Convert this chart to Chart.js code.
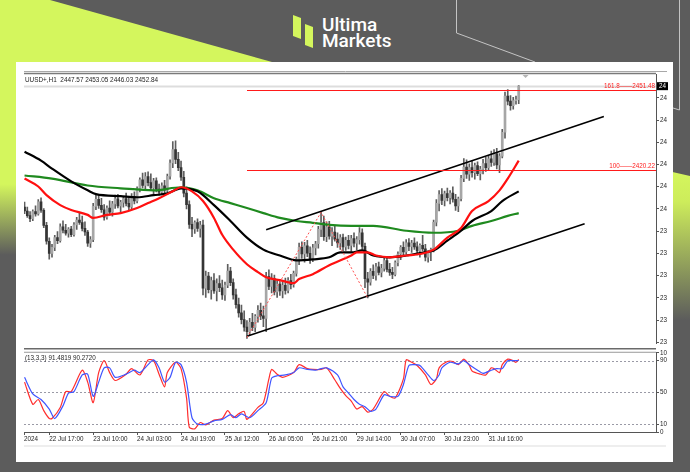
<!DOCTYPE html>
<html>
<head>
<meta charset="utf-8">
<title>UUSD+ H1</title>
<script src="https://cdn.jsdelivr.net/npm/chart.js@4.4.1/dist/chart.umd.min.js"></script>
<style>
  html, body { margin: 0; padding: 0; }
  body { width: 690px; height: 472px; position: relative; overflow: hidden; background: #5c5c5c; }
  #bg { position: absolute; left: 0; top: 0; }
  #panel { position: absolute; left: 16px; top: 62px; width: 657px; height: 400px; background: #fff; }
  #priceChart { position: absolute; left: 24px; top: 62px; }
  #stochChart { position: absolute; left: 24px; top: 348px; }
</style>
</head>
<body>
<svg id="bg" width="690" height="472" xmlns="http://www.w3.org/2000/svg">
  <defs>
    <linearGradient id="limeLeft" x1="0" y1="0" x2="0" y2="472" gradientUnits="userSpaceOnUse">
      <stop offset="0" stop-color="#d4f65d"/>
      <stop offset="0.39" stop-color="#d4f65d"/>
      <stop offset="0.54" stop-color="#5c5c5c"/>
    </linearGradient>
    <linearGradient id="limeRight" x1="0" y1="172" x2="0" y2="320" gradientUnits="userSpaceOnUse">
      <stop offset="0" stop-color="#d4f65d"/>
      <stop offset="0.2" stop-color="#cdec5b"/>
      <stop offset="1" stop-color="#5c5c5c"/>
    </linearGradient>
  </defs>
  <polygon points="0,0 50,0 290,67 290,472 0,472" fill="url(#limeLeft)"/>
  <polygon points="655,168 690,176 690,472 655,472" fill="url(#limeRight)"/>
  <polyline points="456.5,0 456.5,33 535,62" stroke="#c4c4c4" stroke-width="1" fill="none"/>
  <polyline points="679.5,0 679.5,110 673,108" stroke="#c4c4c4" stroke-width="1" fill="none"/>
  <polygon points="293,15 301,18 301,39 293,36" fill="#d4f65d"/>
  <polygon points="305,24 313,27 313,48 305,45" fill="#d4f65d"/>
  <text x="322" y="30.5" font-family="Roboto, 'Liberation Sans', sans-serif" font-size="19" font-weight="500" fill="#ffffff">Ultima</text>
  <text x="322" y="47" font-family="Roboto, 'Liberation Sans', sans-serif" font-size="19" font-weight="500" fill="#ffffff">Markets</text>
</svg>
<div id="panel"></div>
<canvas id="priceChart" width="650" height="286"></canvas>
<canvas id="stochChart" width="650" height="100"></canvas>
<script>
// H1 candles, 22 Jul 08:00 .. 1 Aug 2024
const opens = [
  2405.5, 2404.0, 2402.2, 2401.0, 2403.8, 2402.9, 2407.6, 2404.3, 2398.4, 2392.2,
  2387.4, 2389.8, 2393.6, 2392.4, 2397.8, 2396.5, 2395.3, 2396.9, 2394.8, 2398.6,
  2400.5, 2399.5, 2397.2, 2395.8, 2391.4, 2392.8, 2405.8, 2408.6, 2406.2, 2404.5,
  2401.6, 2405.2, 2403.6, 2406.8, 2408.8, 2406.0, 2407.4, 2408.9, 2407.0, 2405.6,
  2409.8, 2408.0, 2412.8, 2416.2, 2414.0, 2417.5, 2415.1, 2413.0, 2415.8, 2412.6,
  2411.4, 2413.9, 2412.2, 2417.6, 2422.8, 2428.0, 2424.2, 2421.0, 2417.2, 2411.0,
  2406.5, 2398.8, 2397.0, 2399.5, 2397.2, 2398.5, 2373.8, 2378.6, 2373.2, 2376.8,
  2372.8, 2375.6, 2374.0, 2371.2, 2375.0, 2380.5, 2376.0, 2371.2, 2367.4, 2364.2,
  2361.5, 2358.6, 2356.8, 2360.5, 2358.5, 2362.8, 2365.2, 2363.0, 2362.0, 2378.4,
  2374.5, 2377.6, 2372.4, 2375.4, 2372.8, 2374.9, 2373.0, 2376.8, 2375.2, 2379.6,
  2385.2, 2389.8, 2387.2, 2390.4, 2387.5, 2385.0, 2389.6, 2391.2, 2396.8, 2399.5,
  2394.0, 2397.8, 2394.2, 2395.8, 2393.0, 2391.5, 2393.6, 2390.0, 2392.5, 2390.6,
  2393.2, 2391.4, 2392.8, 2395.5, 2390.2, 2377.5, 2376.2, 2380.4, 2378.8, 2382.2,
  2380.0, 2381.6, 2384.6, 2381.2, 2380.0, 2379.2, 2383.8, 2387.2, 2389.8, 2388.0,
  2391.6, 2390.2, 2391.5, 2390.0, 2388.4, 2390.6, 2389.2, 2386.0, 2387.8, 2388.9,
  2399.6, 2407.0, 2410.4, 2408.2, 2410.8, 2409.2, 2411.0, 2408.6, 2406.0, 2408.8,
  2416.8, 2421.2, 2418.4, 2421.0, 2419.0, 2421.8, 2418.6, 2420.4, 2422.6, 2421.0,
  2424.4, 2423.0, 2426.4, 2422.0, 2425.5, 2434.8, 2449.0, 2447.0, 2445.2, 2447.2,
  2447.57
];
const highs = [
  2407.5, 2405.5, 2403.8, 2404.5, 2406.0, 2408.5, 2409.2, 2405.0, 2399.6, 2393.5,
  2391.0, 2394.5, 2396.0, 2399.0, 2400.2, 2398.8, 2397.5, 2398.0, 2399.5, 2401.5,
  2403.4, 2402.0, 2399.8, 2396.5, 2394.0, 2407.0, 2410.5, 2410.0, 2409.0, 2406.5,
  2406.0, 2408.0, 2407.8, 2410.2, 2410.5, 2408.2, 2409.8, 2411.0, 2409.2, 2410.8,
  2411.5, 2413.5, 2417.0, 2418.8, 2419.0, 2419.3, 2418.6, 2416.8, 2417.0, 2414.5,
  2415.0, 2416.0, 2418.5, 2424.0, 2431.2, 2431.5, 2427.0, 2423.5, 2419.5, 2413.5,
  2408.0, 2401.5, 2400.2, 2401.0, 2400.0, 2400.5, 2380.5, 2380.0, 2378.2, 2379.5,
  2377.5, 2378.8, 2377.0, 2376.2, 2383.2, 2382.0, 2377.5, 2373.5, 2370.0, 2367.2,
  2365.0, 2361.2, 2362.0, 2364.0, 2363.5, 2367.0, 2368.0, 2366.8, 2380.0, 2381.0,
  2379.5, 2379.0, 2376.8, 2377.2, 2376.5, 2377.8, 2378.0, 2379.2, 2380.5, 2386.0,
  2391.5, 2392.0, 2391.8, 2392.5, 2390.0, 2391.0, 2392.2, 2398.0, 2403.5, 2402.0,
  2399.8, 2400.0, 2397.5, 2398.0, 2395.5, 2394.8, 2395.0, 2393.8, 2394.5, 2394.5,
  2395.5, 2394.0, 2397.5, 2397.0, 2391.5, 2380.0, 2381.5, 2383.0, 2383.5, 2384.0,
  2383.2, 2385.8, 2386.0, 2383.5, 2382.0, 2384.5, 2388.0, 2390.5, 2392.0, 2392.8,
  2393.2, 2392.5, 2393.5, 2392.0, 2391.2, 2394.5, 2391.0, 2388.5, 2389.5, 2400.5,
  2408.5, 2412.0, 2412.8, 2411.8, 2413.0, 2412.0, 2413.5, 2410.5, 2409.5, 2418.0,
  2424.5, 2424.0, 2422.5, 2423.5, 2422.8, 2423.2, 2421.5, 2424.2, 2425.0, 2425.8,
  2427.5, 2428.0, 2428.5, 2426.5, 2436.0, 2450.5, 2451.5, 2449.2, 2448.5, 2449.0,
  2453.05
];
const lows = [
  2403.0, 2401.5, 2399.8, 2400.2, 2402.0, 2402.4, 2403.5, 2397.5, 2391.0, 2385.2,
  2386.0, 2388.5, 2391.2, 2391.8, 2395.4, 2394.6, 2393.8, 2394.0, 2394.2, 2396.8,
  2398.8, 2396.2, 2394.5, 2390.2, 2389.8, 2392.0, 2404.5, 2405.0, 2403.5, 2400.4,
  2400.8, 2402.4, 2402.0, 2405.0, 2405.2, 2403.6, 2405.5, 2406.0, 2404.5, 2404.8,
  2406.8, 2407.2, 2411.5, 2413.0, 2412.4, 2413.8, 2412.0, 2410.8, 2411.5, 2410.2,
  2410.5, 2411.0, 2411.6, 2416.5, 2421.0, 2422.5, 2419.8, 2416.0, 2409.5, 2404.8,
  2397.2, 2394.0, 2395.2, 2396.0, 2393.8, 2371.2, 2370.2, 2372.0, 2369.5, 2371.8,
  2368.8, 2372.5, 2369.4, 2369.0, 2374.0, 2374.8, 2369.5, 2366.0, 2362.5, 2359.8,
  2357.0, 2354.2, 2355.5, 2357.2, 2356.8, 2360.5, 2361.5, 2358.8, 2356.8, 2373.2,
  2372.0, 2371.2, 2370.2, 2371.0, 2370.0, 2371.5, 2372.0, 2373.5, 2374.2, 2378.5,
  2383.0, 2385.5, 2384.0, 2386.2, 2383.5, 2384.2, 2386.8, 2389.5, 2394.0, 2392.5,
  2392.0, 2393.0, 2390.5, 2392.2, 2389.8, 2389.0, 2388.5, 2388.6, 2389.2, 2388.2,
  2390.0, 2388.8, 2391.0, 2389.0, 2374.0, 2370.0, 2375.0, 2377.5, 2377.0, 2379.0,
  2378.2, 2380.5, 2380.2, 2378.8, 2377.5, 2378.6, 2382.5, 2385.0, 2386.5, 2387.2,
  2388.5, 2387.8, 2389.0, 2386.8, 2386.0, 2388.5, 2384.5, 2384.0, 2384.6, 2388.0,
  2398.2, 2404.0, 2406.5, 2406.0, 2408.0, 2406.8, 2407.5, 2404.2, 2403.8, 2408.0,
  2415.5, 2416.8, 2416.0, 2417.2, 2416.5, 2417.8, 2416.2, 2418.5, 2419.5, 2419.8,
  2421.5, 2421.8, 2420.5, 2419.0, 2424.8, 2432.5, 2445.5, 2443.5, 2443.8, 2445.8,
  2446.03
];
const closes = [
  2404.0, 2402.2, 2401.0, 2403.8, 2402.9, 2407.6, 2404.3, 2398.4, 2392.2, 2387.4,
  2389.8, 2393.6, 2392.4, 2397.8, 2396.5, 2395.3, 2396.9, 2394.8, 2398.6, 2400.5,
  2399.5, 2397.2, 2395.8, 2391.4, 2392.8, 2405.8, 2408.6, 2406.2, 2404.5, 2401.6,
  2405.2, 2403.6, 2406.8, 2408.8, 2406.0, 2407.4, 2408.9, 2407.0, 2405.6, 2409.8,
  2408.0, 2412.8, 2416.2, 2414.0, 2417.5, 2415.1, 2413.0, 2415.8, 2412.6, 2411.4,
  2413.9, 2412.2, 2417.6, 2422.8, 2428.0, 2424.2, 2421.0, 2417.2, 2411.0, 2406.5,
  2398.8, 2397.0, 2399.5, 2397.2, 2398.5, 2373.8, 2378.6, 2373.2, 2376.8, 2372.8,
  2375.6, 2374.0, 2371.2, 2375.0, 2380.5, 2376.0, 2371.2, 2367.4, 2364.2, 2361.5,
  2358.6, 2356.8, 2360.5, 2358.5, 2362.8, 2365.2, 2363.0, 2362.0, 2378.4, 2374.5,
  2377.6, 2372.4, 2375.4, 2372.8, 2374.9, 2373.0, 2376.8, 2375.2, 2379.6, 2385.2,
  2389.8, 2387.2, 2390.4, 2387.5, 2385.0, 2389.6, 2391.2, 2396.8, 2399.5, 2394.0,
  2397.8, 2394.2, 2395.8, 2393.0, 2391.5, 2393.6, 2390.0, 2392.5, 2390.6, 2393.2,
  2391.4, 2392.8, 2395.5, 2390.2, 2377.5, 2376.2, 2380.4, 2378.8, 2382.2, 2380.0,
  2381.6, 2384.6, 2381.2, 2380.0, 2379.2, 2383.8, 2387.2, 2389.8, 2388.0, 2391.6,
  2390.2, 2391.5, 2390.0, 2388.4, 2390.6, 2389.2, 2386.0, 2387.8, 2388.9, 2399.6,
  2407.0, 2410.4, 2408.2, 2410.8, 2409.2, 2411.0, 2408.6, 2406.0, 2408.8, 2416.8,
  2421.2, 2418.4, 2421.0, 2419.0, 2421.8, 2418.6, 2420.4, 2422.6, 2421.0, 2424.4,
  2423.0, 2426.4, 2422.0, 2425.5, 2434.8, 2449.0, 2447.0, 2445.2, 2447.2, 2447.57,
  2452.84
];

// moving averages, [bar, price]
const maRed = [[0,2416.7],[5,2413.6],[8,2410.2],[13,2406.3],[17,2404.4],[23,2402.5],[25,2401.3],
  [30,2402.5],[35,2403.2],[41,2405.2],[45,2407.1],[49,2409.0],[54,2411.7],[57,2413.3],[61,2411.7],
  [65,2407.9],[69,2401.3],[72,2394.7],[76,2388.9],[81,2383.2],[85,2380.1],[88,2378.1],[93,2377.0],
  [98,2375.8],[100,2377.4],[105,2379.3],[111,2382.8],[119,2386.6],[121,2387.8],[125,2387.8],
  [128,2386.6],[133,2385.9],[139,2386.6],[145,2387.4],[149,2388.9],[154,2393.6],[159,2397.4],
  [163,2404.0],[169,2407.9],[173,2412.1],[176,2416.7],[180,2423.7]];
const maBlack = [[0,2427.2],[6,2423.7],[10,2420.6],[17,2415.6],[23,2412.1],[26,2410.6],[35,2409.8],
  [41,2409.4],[47,2410.2],[52,2410.9],[57,2412.9],[63,2411.7],[69,2406.3],[75,2400.1],[81,2393.6],
  [87,2388.9],[93,2386.6],[99,2384.7],[105,2385.1],[111,2385.9],[115,2387.8],[119,2387.8],
  [123,2388.6],[127,2386.6],[133,2385.9],[139,2386.6],[145,2387.8],[149,2388.6],[154,2392.4],
  [159,2396.3],[163,2400.1],[170,2404.0],[174,2407.9],[180,2411.7]];
const maGreen = [[0,2417.9],[10,2416.7],[23,2414.0],[35,2412.9],[47,2412.1],[57,2413.3],[63,2412.1],
  [69,2409.0],[75,2407.1],[81,2405.2],[87,2403.2],[93,2401.3],[99,2400.1],[105,2399.4],[111,2398.6],
  [119,2398.2],[127,2398.2],[139,2396.3],[149,2395.5],[158,2396.3],[163,2398.2],[170,2400.1],
  [176,2402.1],[180,2403.2]];

// drawn objects
const channelLow = [[81,2355.0],[204,2399.0]];
const channelHigh = [[88,2396.7],[211,2441.0]];
const fibPath = [[81,2354.5],[108,2403.5],[125,2370.0]];
const fibStart = 81;
const fibLevels = [2420.22, 2451.48];
const fibLabels = ['100\u2014\u20142420.22', '161.8\u2014\u20142451.48'];

// stochastic (13,3,3), [bar, value]
const stochMain = [[0,63],[3,35],[5,41],[7,27],[9,17],[10,17],[13,31],[15,51],[17,51],[21,78],[23,63],
  [25,37],[27,75],[29,90],[31,75],[33,65],[37,73],[39,80],[42,72],[45,91],[47,90],[49,73],[51,57],
  [52,75],[55,88],[57,80],[59,43],[60,6],[62,4],[64,12],[66,9],[69,15],[72,17],[74,27],[76,18],
  [78,23],[80,26],[81,16],[85,31],[87,37],[89,67],[90,79],[92,73],[94,69],[98,75],[100,85],[103,80],
  [105,79],[108,79],[110,81],[113,66],[115,55],[117,46],[119,39],[121,29],[123,32],[125,25],[127,29],
  [131,51],[133,45],[135,43],[138,67],[139,91],[141,88],[143,84],[146,72],[148,60],[150,67],[151,81],
  [154,89],[156,89],[158,85],[160,92],[162,84],[163,77],[166,73],[168,72],[170,81],[171,80],[173,75],
  [174,85],[176,92],[178,90],[179,88],[180,91.4819]];
const stochSignal = [[0,69],[3,48],[6,41],[9,29],[11,17],[14,33],[16,49],[18,51],[21,72],[23,73],
  [25,45],[27,63],[29,81],[31,81],[33,69],[37,73],[40,78],[42,75],[45,85],[47,91],[49,81],[51,63],
  [53,69],[55,88],[57,85],[59,63],[61,18],[63,10],[66,10],[69,14],[72,16],[75,22],[77,18],[79,23],
  [82,18],[85,27],[88,37],[90,68],[92,71],[95,72],[98,75],[100,81],[103,79],[106,78],[108,80],
  [110,81],[114,72],[116,57],[118,49],[120,41],[122,35],[124,32],[126,26],[128,29],[131,47],[133,45],
  [136,45],[138,60],[140,84],[142,85],[144,84],[147,72],[149,65],[151,72],[152,81],[155,88],[158,86],
  [160,90],[162,85],[165,78],[167,74],[170,78],[172,80],[174,80],[176,90],[178,90],[180,90.2720]];
const stochLevels = [10, 50, 90];

// axes
const priceTicks = [2352.6, 2361.3, 2370.0, 2378.7, 2387.4, 2396.1, 2404.8, 2413.5, 2422.2, 2430.9, 2439.6, 2448.3];
const stochTicks = [0, 10, 50, 90, 100];
const stochTickLabels = ['0', '10', '50', '90', '10'];
const timeTicks = [-0.2, 9, 25, 41, 57, 73, 89, 105, 121, 137, 153, 169];
const timeLabels = ['2024', '22 Jul 17:00', '23 Jul 10:00', '24 Jul 03:00', '24 Jul 19:00', '25 Jul 12:00',
  '26 Jul 05:00', '26 Jul 21:00', '29 Jul 14:00', '30 Jul 07:00', '30 Jul 23:00', '31 Jul 16:00'];

const FONT = "'Liberation Sans', Arial, sans-serif";
Chart.defaults.font.family = FONT;
Chart.defaults.font.size = 6.3;
Chart.defaults.color = '#1e1e1e';

const xMin = -0.2, xMax = 230;
const last = closes.length - 1;
const bars = closes.map((c, i) => i);
const toXY = pts => pts.map(p => ({ x: p[0], y: p[1] }));

function lineSet(pts, color, width, order, extra) {
  return Object.assign({
    type: 'line', data: toXY(pts), borderColor: color, borderWidth: width,
    pointRadius: 0, fill: false, order: order
  }, extra || {});
}

const priceDecor = {
  id: 'priceDecor',
  beforeDatasetsDraw(chart) {
    const { ctx, chartArea: a, scales: { y } } = chart;
    const by = Math.round(y.getPixelForValue(closes[last])) + 0.5;
    ctx.save();
    ctx.strokeStyle = '#dddddd';
    ctx.lineWidth = 2;
    ctx.beginPath(); ctx.moveTo(a.left, by); ctx.lineTo(a.right, by); ctx.stroke();
    ctx.restore();
  },
  afterDatasetsDraw(chart) {
    // fibo expansion levels, crisp 1px
    const { ctx, chartArea: a, scales: { x, y } } = chart;
    ctx.save();
    ctx.strokeStyle = '#ff1a1a';
    ctx.lineWidth = 1;
    const x0 = Math.round(x.getPixelForValue(fibStart));
    fibLevels.forEach(lv => {
      const ly = Math.round(y.getPixelForValue(lv)) + 0.5;
      ctx.beginPath(); ctx.moveTo(x0, ly); ctx.lineTo(a.right, ly); ctx.stroke();
    });
    ctx.restore();
  },
  afterDraw(chart) {
    const { ctx, chartArea: a, scales: { x, y } } = chart;
    ctx.save();
    // window top edge
    ctx.strokeStyle = '#a8a8a8'; ctx.lineWidth = 1;
    ctx.beginPath(); ctx.moveTo(a.left, a.top - 2.5); ctx.lineTo(a.right + 11, a.top - 2.5); ctx.stroke();
    ctx.strokeStyle = '#7a7a7a'; ctx.lineWidth = 1.5;
    ctx.beginPath(); ctx.moveTo(a.left, a.top - 0.5); ctx.lineTo(a.right, a.top - 0.5); ctx.stroke();

    // shift marker
    const sx = x.getPixelForValue(182.5);
    ctx.fillStyle = '#b4b4b4';
    ctx.beginPath(); ctx.moveTo(sx - 3, a.top + 1); ctx.lineTo(sx + 3, a.top + 1); ctx.lineTo(sx, a.top + 4); ctx.fill();

    // symbol line
    const head = 'UUSD+,H1  ' + [opens, highs, lows, closes].map(s => s[last].toFixed(2)).join(' ');
    ctx.font = '6.4px ' + FONT;
    ctx.fillStyle = '#1e1e1e';
    ctx.textBaseline = 'middle';
    ctx.textAlign = 'left';
    ctx.fillText(head, a.left + 1, a.top + 6.5);

    // fibo level captions
    ctx.fillStyle = '#ff2020';
    ctx.textAlign = 'right';
    ctx.textBaseline = 'bottom';
    ctx.font = '6.3px ' + FONT;
    fibLevels.forEach((lv, i) => {
      ctx.fillText(fibLabels[i], a.right - 1, Math.round(y.getPixelForValue(lv)) - 0.5);
    });

    // bid price box
    const py = y.getPixelForValue(closes[last]);
    ctx.fillStyle = '#000';
    ctx.fillRect(a.right + 1, py - 4, 11, 8);
    ctx.fillStyle = '#fff';
    ctx.textAlign = 'left';
    ctx.textBaseline = 'middle';
    ctx.fillText(String(closes[last]).slice(0, 2), a.right + 3, py);
    ctx.restore();
  }
};

new Chart(document.getElementById('priceChart'), {
  type: 'bar',
  data: {
    datasets: [
      lineSet(fibPath, '#ff5050', 1, 0, { borderDash: [2, 2] }),
      lineSet(channelLow, '#000', 1.6, 0),
      lineSet(channelHigh, '#000', 1.6, 0),
      lineSet(maRed, '#ff1010', 2.2, 1, { cubicInterpolationMode: 'monotone' }),
      lineSet(maBlack, '#000', 2.2, 1, { cubicInterpolationMode: 'monotone' }),
      lineSet(maGreen, '#1f8a1f', 2.2, 2, { cubicInterpolationMode: 'monotone' }),
      {
        type: 'bar',
        data: bars.map(i => ({ x: i, y: [opens[i], closes[i]] })),
        backgroundColor: bars.map(i => closes[i] >= opens[i] ? '#a6a6a6' : '#353535'),
        barThickness: 2, grouped: false, order: 3
      },
      {
        type: 'bar',
        data: bars.map(i => ({ x: i, y: [lows[i], highs[i]] })),
        backgroundColor: '#5e5e5e',
        barThickness: 1, grouped: false, order: 4
      }
    ]
  },
  options: {
    responsive: false,
    animation: false,
    events: [],
    layout: { padding: { top: 12, left: 0, right: 0, bottom: 1 } },
    plugins: { legend: { display: false }, tooltip: { enabled: false } },
    scales: {
      x: { type: 'linear', min: xMin, max: xMax, offset: false, display: false, grid: { offset: false } },
      y: {
        position: 'right', min: 2352.3, max: 2457.6,
        afterFit: s => { s.width = 18; },
        afterBuildTicks: s => { s.ticks = priceTicks.map(v => ({ value: v })); },
        ticks: { padding: 1, callback: v => String(v).slice(0, 2) },
        grid: { drawOnChartArea: false, tickLength: 3, color: '#555' },
        border: { display: true, color: '#555', width: 1 }
      }
    }
  },
  plugins: [priceDecor]
});

const stochDecor = {
  id: 'stochDecor',
  beforeDatasetsDraw(chart) {
    const { ctx, chartArea: a, scales: { y } } = chart;
    ctx.save();
    ctx.strokeStyle = '#9a9aa6';
    ctx.lineWidth = 1;
    ctx.setLineDash([2, 2]);
    stochLevels.forEach(v => {
      const ly = Math.round(y.getPixelForValue(v)) + 0.5;
      ctx.beginPath(); ctx.moveTo(a.left, ly); ctx.lineTo(a.right, ly); ctx.stroke();
    });
    ctx.restore();
  },
  afterDraw(chart) {
    const { ctx, chartArea: a } = chart;
    ctx.save();
    ctx.strokeStyle = '#6a6a6a'; ctx.lineWidth = 1.5;
    ctx.beginPath(); ctx.moveTo(a.left, 0.75); ctx.lineTo(a.right, 0.75); ctx.stroke();
    ctx.strokeStyle = '#9a9a9a'; ctx.lineWidth = 1;
    ctx.beginPath(); ctx.moveTo(a.left, a.top - 0.5); ctx.lineTo(a.right, a.top - 0.5); ctx.stroke();
    ctx.strokeStyle = '#eeeeee'; ctx.lineWidth = 2;
    ctx.beginPath(); ctx.moveTo(a.left, chart.height - 2); ctx.lineTo(a.right + 10, chart.height - 2); ctx.stroke();
    const k = stochMain[stochMain.length - 1][1];
    const d = stochSignal[stochSignal.length - 1][1];
    ctx.font = '6.3px ' + FONT;
    ctx.fillStyle = '#1e1e1e';
    ctx.textBaseline = 'middle';
    ctx.fillText('(13,3,3) ' + k.toFixed(4) + ' ' + d.toFixed(4), a.left + 1, a.top + 5.5);
    ctx.restore();
  }
};

new Chart(document.getElementById('stochChart'), {
  type: 'line',
  data: {
    datasets: [
      lineSet(stochMain, '#ff2e2e', 1.2, 1, { tension: 0.25 }),
      lineSet(stochSignal, '#3f55ff', 1.2, 0, { tension: 0.25 })
    ]
  },
  options: {
    responsive: false,
    animation: false,
    events: [],
    layout: { padding: { top: 2, left: 0, right: 0, bottom: 0 } },
    plugins: { legend: { display: false }, tooltip: { enabled: false } },
    scales: {
      x: {
        type: 'linear', min: xMin, max: xMax, offset: false,
        afterFit: s => { s.height = 16; },
        afterBuildTicks: s => { s.ticks = timeTicks.map(v => ({ value: v })); },
        ticks: { autoSkip: false, maxRotation: 0, align: 'start', padding: 0,
          callback: (v, i) => timeLabels[i] },
        grid: { drawOnChartArea: false, tickLength: 3, color: '#555' },
        border: { display: true, color: '#555', width: 1 }
      },
      y: {
        position: 'right', min: 0, max: 100,
        afterFit: s => { s.width = 18; },
        afterBuildTicks: s => { s.ticks = stochTicks.map(v => ({ value: v })); },
        ticks: { padding: 1, callback: (v, i) => stochTickLabels[i] },
        grid: { drawOnChartArea: false, tickLength: 3, color: '#555' },
        border: { display: true, color: '#555', width: 1 }
      }
    }
  },
  plugins: [stochDecor]
});
</script>
</body>
</html>
